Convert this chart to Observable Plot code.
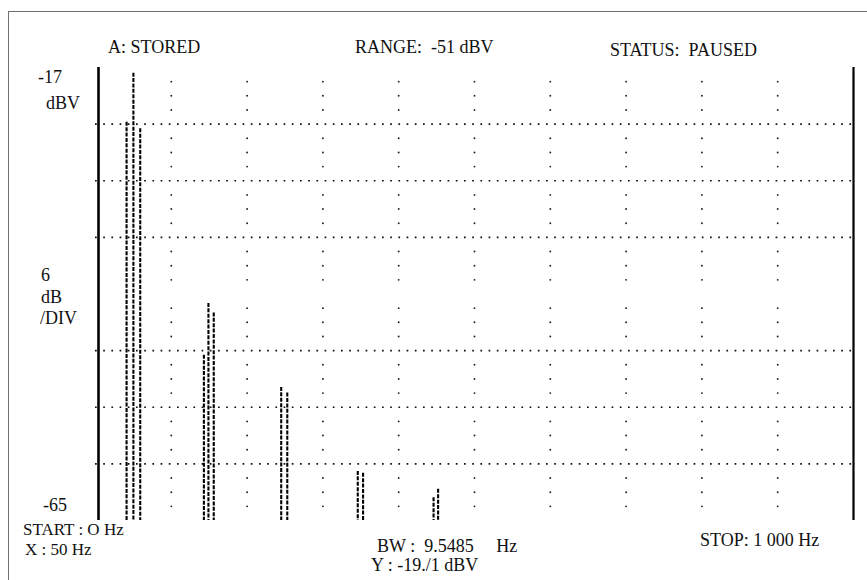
<!DOCTYPE html>
<html>
<head>
<meta charset="utf-8">
<script src="https://cdn.jsdelivr.net/npm/d3@7"></script>
<script src="https://cdn.jsdelivr.net/npm/@observablehq/plot@0.6"></script>
<style>
  html, body { margin: 0; padding: 0; background: #fff; overflow: hidden; }
  #wrap { position: relative; width: 867px; height: 580px; overflow: hidden; }
  #frame { position: absolute; left: 8px; top: 11px; width: 900px; height: 620px;
           border: 1.5px solid #707070; box-sizing: border-box; }
  .t { position: absolute; font-family: "Liberation Serif", "DejaVu Serif", serif;
       font-size: 18px; line-height: 14px; color: #111; white-space: pre; }
  .s { font-size: 17px; }
  #chart { position: absolute; left: 0; top: 0; }
</style>
</head>
<body>
<div id="wrap">
  <div id="frame"></div>
  <div id="chart"></div>
</div>
<script>
// ---- data ----
const headerLabels = ["A: STORED", "RANGE:  -51 dBV", "STATUS:  PAUSED"];
const yTopLabel = ["-17", "dBV"];
const yScaleLabel = ["6", "dB", "/DIV"];
const yBottomLabel = "-65";
const footerLabels = ["START : O Hz", "X : 50 Hz", "BW :  9.5485     Hz", "Y : -19./1 dBV", "STOP: 1 000 Hz"];

const yDomain = [-65, -17];          // dBV
const xDomain = [0, 1000];           // Hz
const gridLevels = [-23, -29, -35, -47, -53, -59];   // dotted horizontal lines (the -41 line is absent)
const vGridFreqs = [100, 200, 300, 400, 500, 600, 700, 800, 900];

// harmonic peaks: each drawn as a few dashed strands
const strandFreqs = [41, 50, 59, 143, 149, 156, 245, 253, 346, 353, 446, 452];
const strandTops  = [-22.8, -17.6, -23.5, -47.5, -42.0, -43.0, -50.9, -51.5, -59.8, -60.0, -62.6, -61.7];

// ---- build ----
const strands = strandFreqs.map((f, i) => ({f, top: strandTops[i]}));
const quarter = (yDomain[1] - yDomain[0]) / 32;
const dotLevels = d3.range(1, 32).filter(k => k % 4 !== 0).map(k => yDomain[1] - k * quarter);
const vDots = d3.cross(vGridFreqs, dotLevels).map(([f, y]) => ({f, y}));

const chart = Plot.plot({
  width: 867,
  height: 580,
  marginLeft: 95,
  marginRight: 14,
  marginTop: 67,
  marginBottom: 60,
  x: {domain: xDomain, axis: null},
  y: {domain: yDomain, axis: null},
  style: {background: "transparent"},
  marks: [
    Plot.ruleY(gridLevels, {x1: xDomain[0], x2: xDomain[1], stroke: "#111", strokeWidth: 1.7, strokeDasharray: "1.7,6.5"}),
    Plot.dot(vDots, {x: "f", y: "y", r: 0.95, fill: "#222", stroke: "none"}),
    Plot.ruleX(strands, {x: "f", y1: "top", y2: yDomain[0], stroke: "#000", strokeWidth: 2.1, strokeDasharray: "4,1.4"}),
    Plot.ruleX([xDomain[0]], {y1: yDomain[0], y2: yDomain[1], dx: 3, stroke: "#000", strokeWidth: 2.6}),
    Plot.ruleX([xDomain[1]], {y1: yDomain[0], y2: yDomain[1], stroke: "#000", strokeWidth: 2.2})
  ]
});
document.getElementById("chart").appendChild(chart);

// ---- text labels ----
const wrap = document.getElementById("wrap");
function label(text, left, centerY, cls) {
  const d = document.createElement("div");
  d.className = "t" + (cls ? " " + cls : "");
  d.textContent = text;
  d.style.left = left + "px";
  d.style.top = (centerY - 7) + "px";
  wrap.appendChild(d);
}
label(headerLabels[0], 108, 47);
label(headerLabels[1], 355, 47);
label(headerLabels[2], 610, 50);
label(yTopLabel[0], 38, 77);
label(yTopLabel[1], 46, 103);
label(yScaleLabel[0], 41, 275);
label(yScaleLabel[1], 41, 297);
label(yScaleLabel[2], 40, 318);
label(yBottomLabel, 43, 505);
label(footerLabels[0], 23, 530, "s");
label(footerLabels[1], 25, 550, "s");
label(footerLabels[2], 377, 546);
label(footerLabels[3], 371, 565);
label(footerLabels[4], 700, 540);
</script>
</body>
</html>
